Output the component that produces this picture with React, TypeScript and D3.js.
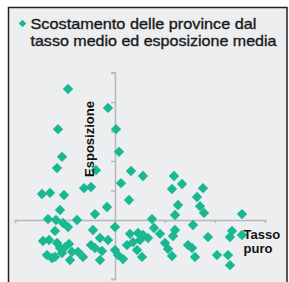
import { useEffect, useRef } from "react";
import * as d3 from "d3";

// scostamento dal tasso medio (x) e dall'esposizione media (y)
const tassoPuro = [
  -0.94, -0.14, -1.14, 0.02, -1.06, 0.08, -1.16, -0.38, 0.32, 0.56, 1.18, 1.34, 1.14, 1.76, 1.64,
  0.12, 0.28, 1.26, 1.7, 1.78, 1.2, 2.54, -0.16, -0.4, -1.46, -1.3, -1.02, -0.62, -0.48, -1.1,
  -1.34, -1.18, -1.04, -0.94, -0.76, -1.2, -0.44, 0.0, 0.74, 0.78, 0.9, 1.2, 1.16, 1.56, 1.86,
  2.34, 2.3, 2.54, -0.48, -0.3, -0.14, -0.26, -0.3, -1.44, -1.32, -1.16, -1.0, -0.92, -1.36, -1.2,
  -1.06, -0.86, -0.9, -0.74, -0.64, -1.1, -1.26, -0.4, 0.0, 0.06, 0.16, 0.3, 0.46, 0.56, 0.66,
  0.24, 0.36, 0.5, 0.44, 0.54, 1.0, 1.06, 1.14, 1.46, 1.54, 1.6, 2.04, 2.26, 2.3,
];
const esposizione = [
  4.44, 3.8, 3.08, 3.08, 2.14, 2.31, 1.76, 1.69, 1.66, 1.49, 1.49, 1.22, 1.05, 1.08, 0.78,
  1.25, 0.68, 0.51, 0.47, 0.24, 0.17, 0.2, 0.44, 0.2, 0.88, 0.92, 0.85, 1.08, 1.12, 0.34,
  0.03, 0.0, -0.1, -0.24, 0.0, -0.37, -0.34, -0.24, 0.03, -0.27, -0.47, -0.34, -0.54, -0.17, -0.58,
  -0.37, -0.58, -0.51, -0.85, -0.61, -0.68, -1.05, -1.36, -0.71, -0.68, -0.78, -0.92, -0.81, -1.19, -1.25,
  -1.12, -1.08, -1.36, -1.08, -1.25, -0.95, -1.29, -0.95, -1.02, -1.19, -1.32, -0.47, -0.44, -0.51, -0.61,
  -0.85, -0.75, -0.68, -1.02, -1.25, -0.78, -0.98, -1.22, -0.85, -0.95, -1.25, -1.19, -1.19, -1.53,
];
const titleLines = ["Scostamento delle province dal", "tasso medio ed esposizione media"];
const xTicks = [-2, -1, 0, 1, 2, 3];
const yTicks = [-2, -1, 0, 1, 2, 3, 4, 5];

const W = 289;
const H = 282;
const teal = "#19b893";

function App() {
  const xAxisRef = useRef<SVGGElement>(null);
  const yAxisRef = useRef<SVGGElement>(null);

  const x = d3.scaleLinear().domain([-2, 3]).range([15, 265]);
  const y = d3.scaleLinear().domain([-2, 5]).range([279, 72.5]);

  useEffect(() => {
    const xAxis = d3.axisBottom(x).tickValues(xTicks).tickSize(3).tickFormat(() => "");
    const yAxis = d3.axisLeft(y).tickValues(yTicks).tickSize(4).tickFormat(() => "");
    const gx = d3.select(xAxisRef.current!).call(xAxis);
    const gy = d3.select(yAxisRef.current!).call(yAxis);
    [gx, gy].forEach((g) => {
      g.selectAll("path, line").attr("stroke", "#b8b8b8").attr("stroke-width", 1.5);
    });
  }, []);

  const diamond = "M0,-5.2L5.2,0L0,5.2L-5.2,0Z";

  return (
    <svg
      width={W}
      height={H}
      style={{ position: "absolute", left: 0, top: 0, display: "block" }}
      fontFamily="Liberation Sans, Arial, sans-serif"
    >
      <rect x={0} y={0} width={W} height={H} fill="#ffffff" />
      <rect x={8.5} y={7.5} width={278.5} height={H} fill="#eceef0" stroke="#222" strokeWidth={1.5} />

      <path d="M0,-3.8L3.8,0L0,3.8L-3.8,0Z" transform="translate(22.5,23.5)" fill={teal} />
      {titleLines.map((t, i) => (
        <text
          key={i}
          x={30.5}
          y={28.5 + i * 17}
          fontSize={15}
          fill="#1a1a1a"
          stroke="#1a1a1a"
          strokeWidth={0.35}
          textLength={i === 0 ? 226 : 246}
          lengthAdjust="spacingAndGlyphs"
        >
          {t}
        </text>
      ))}

      <g ref={xAxisRef} transform={`translate(0,${y(0)})`} />
      <g ref={yAxisRef} transform={`translate(${x(0)},0)`} />

      {tassoPuro.map((v, i) => (
        <path key={i} d={diamond} transform={`translate(${x(v)},${y(esposizione[i])})`} fill={teal} />
      ))}

      <text
        transform={`translate(94,139) rotate(-90)`}
        textAnchor="middle"
        fontSize={13}
        fontWeight="bold"
        fill="#111"
      >
        Esposizione
      </text>
      <text x={243.5} y={239} fontSize={13} fontWeight="bold" fill="#111">
        Tasso
      </text>
      <text x={243.5} y={252.5} fontSize={13} fontWeight="bold" fill="#111">
        puro
      </text>
    </svg>
  );
}

export default App;
